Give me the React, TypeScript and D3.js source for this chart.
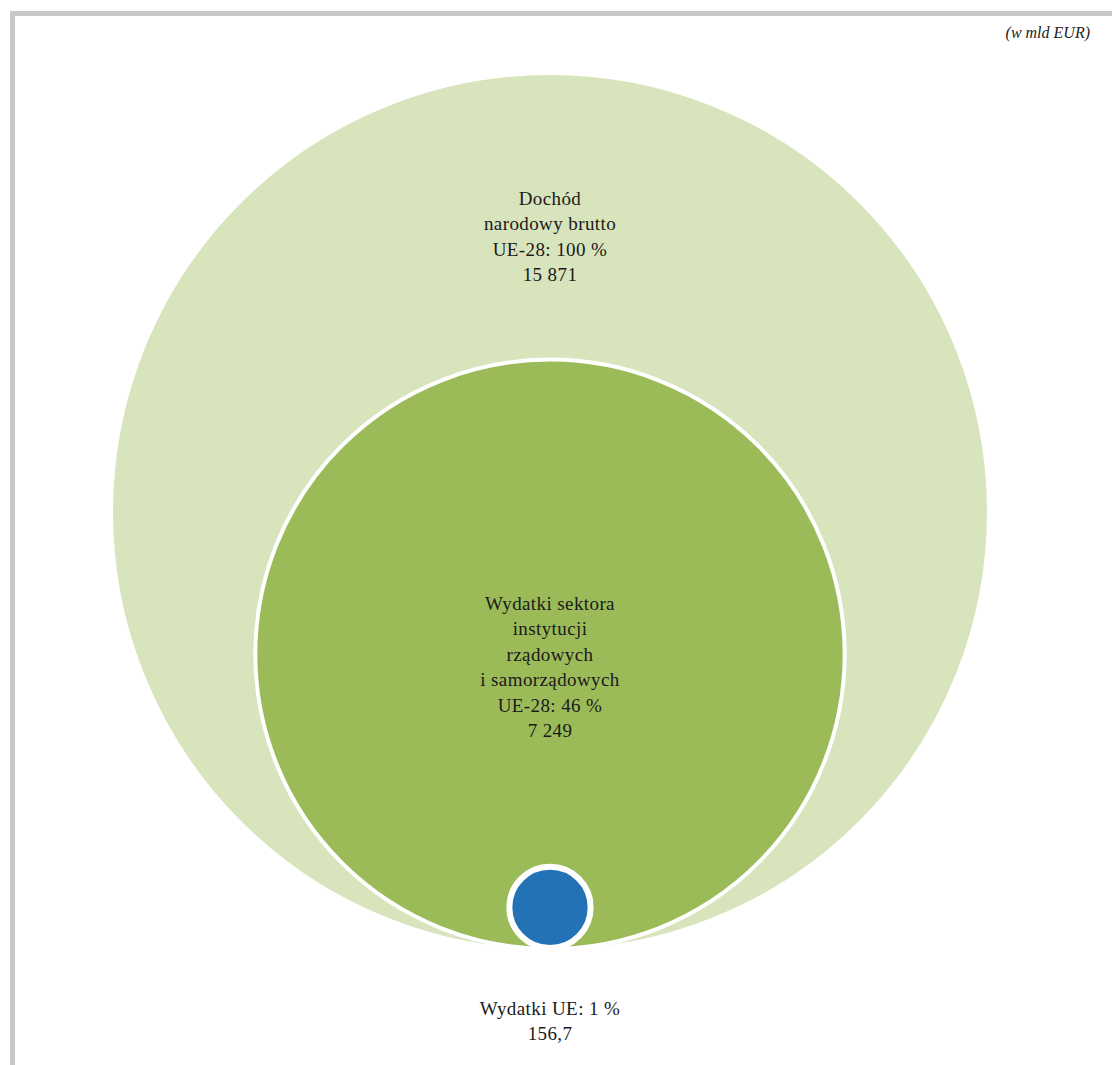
import React from "react";
import * as d3 from "d3";

const categories = ["Dochód narodowy brutto UE-28", "Wydatki sektora instytucji rządowych i samorządowych UE-28", "Wydatki UE"];
const values = [15871, 7249, 156.7];
const shares = ["100 %", "46 %", "1 %"];
const valueLabels = ["15 871", "7 249", "156,7"];
const labelLines = [
  ["Dochód", "narodowy brutto", "UE-28: 100 %", "15 871"],
  ["Wydatki sektora", "instytucji", "rządowych", "i samorządowych", "UE-28: 46 %", "7 249"],
  ["Wydatki UE: 1 %", "156,7"],
];
const colors = ["#d8e4bc", "#9bbb59", "#2372b6"];
const unitLabel = "(w mld EUR)";

const W = 1112;
const H = 1065;
const FONT = "'Liberation Serif', 'Times New Roman', 'DejaVu Serif', serif";

export default function App() {
  const cx = 550;
  const bottom = 951;
  const r = d3.scaleSqrt().domain([0, d3.max(values) as number]).range([0, 439]);
  const strokeW = [2, 4, 6];
  const labelY = [205, 610, 1015];
  const lineH = 25.4;
  return (
    <svg width={W} height={H} style={{ position: "absolute", left: 0, top: 0, display: "block" }}>
      <rect x={0} y={0} width={W} height={H} fill="#ffffff" />
      <rect x={10} y={11} width={W - 10} height={5} fill="#c8c8c8" />
      <rect x={10} y={11} width={5} height={H - 11} fill="#c8c8c8" />
      <text x={1090} y={38} textAnchor="end" fontFamily={FONT} fontStyle="italic" fontSize={16} fill="#222">
        {unitLabel}
      </text>
      {values.map((v, i) => {
        const R = r(v);
        const sw = strokeW[i];
        return (
          <circle key={categories[i]} cx={cx} cy={bottom - R} r={R - sw / 2} fill={colors[i]} stroke="#ffffff" strokeWidth={sw} />
        );
      })}
      {labelLines.map((lines, i) => (
        <text key={i} textAnchor="middle" fontFamily={FONT} fontSize={19} fill="#1a1a1a" letterSpacing={0.4}>
          {lines.map((l, j) => (
            <tspan key={j} x={cx} y={labelY[i] + j * lineH}>
              {l}
            </tspan>
          ))}
        </text>
      ))}
    </svg>
  );
}
